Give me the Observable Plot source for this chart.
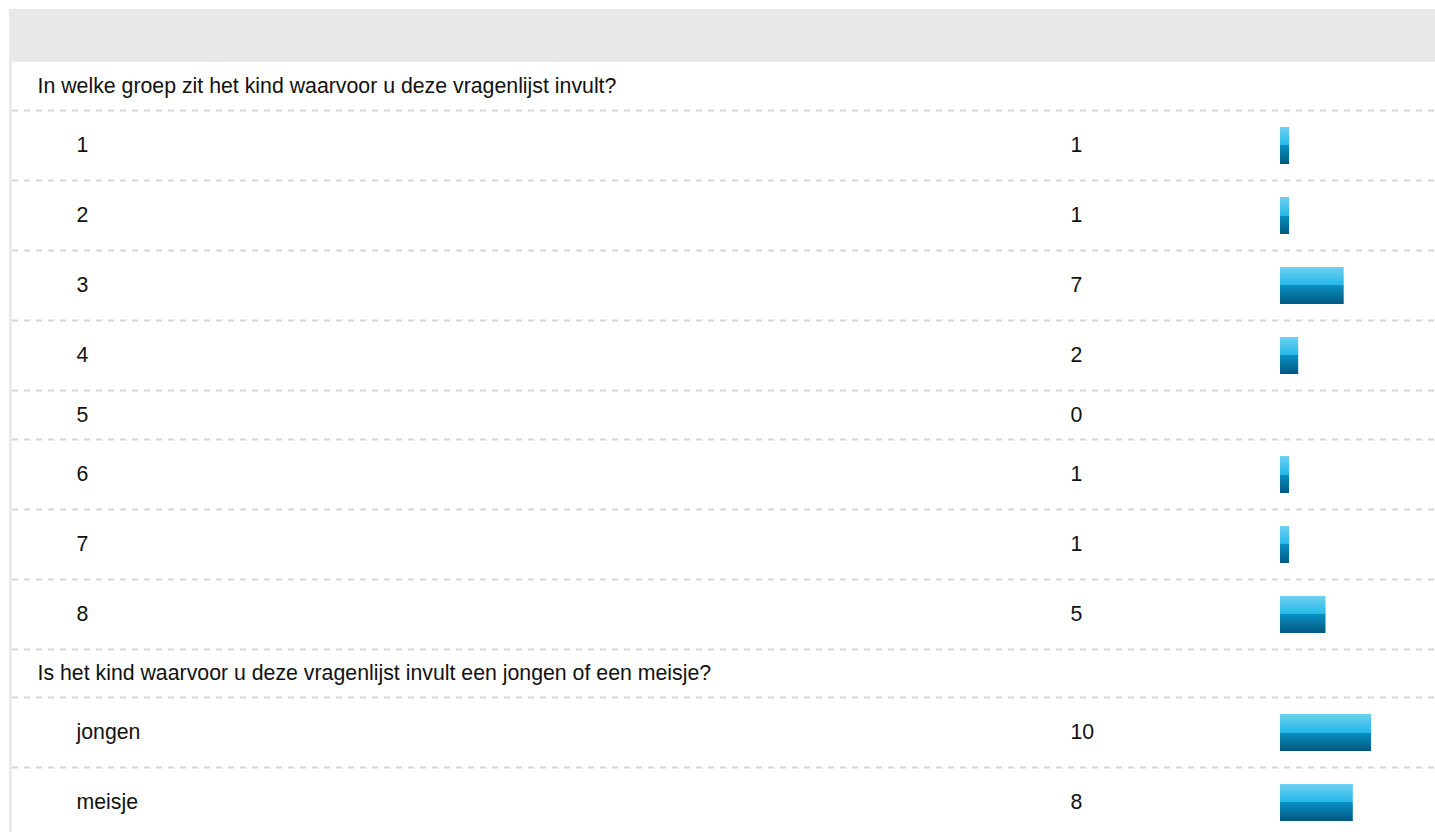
<!DOCTYPE html>
<html>
<head>
<meta charset="utf-8">
<script src="https://cdn.jsdelivr.net/npm/d3@7"></script>
<script src="https://cdn.jsdelivr.net/npm/@observablehq/plot@0.6"></script>
<style>
  html, body { margin: 0; padding: 0; background: #fff; overflow: hidden; }
  #page { position: relative; width: 1435px; height: 832px; }
  #header { position: absolute; left: 9px; top: 9px; right: 0; height: 53px; background: #e8e8e8; }
  #leftbar { position: absolute; left: 9px; top: 62px; width: 3px; bottom: 0; background: #ebebeb; }
  #chart { position: absolute; left: 12px; top: 62px; }
  #chart svg { display: block; }
</style>
</head>
<body>
<div id="page">
  <div id="header"></div>
  <div id="leftbar"></div>
  <div id="chart"></div>
</div>
<script>
// ---- data ----
const questions = [
  "In welke groep zit het kind waarvoor u deze vragenlijst invult?",
  "Is het kind waarvoor u deze vragenlijst invult een jongen of een meisje?"
];
const groepLabels = ["1", "2", "3", "4", "5", "6", "7", "8"];
const groepCounts = [1, 1, 7, 2, 0, 1, 1, 5];
const geslachtLabels = ["jongen", "meisje"];
const geslachtCounts = [10, 8];

// ---- layout of rows (stacked table) ----
const Q_H = 48, BAR_ROW_H = 70, EMPTY_ROW_H = 49, BAR_PAD = 17, BAR_H = 37;
const sections = [
  {question: questions[0], labels: groepLabels, counts: groepCounts},
  {question: questions[1], labels: geslachtLabels, counts: geslachtCounts}
];
const rows = [];
let yPos = 0;
for (const s of sections) {
  rows.push({type: "q", text: s.question, y0: yPos, y1: yPos + Q_H});
  yPos += Q_H;
  s.labels.forEach((lab, i) => {
    const v = s.counts[i];
    const h = v > 0 ? BAR_ROW_H : EMPTY_ROW_H;
    rows.push({type: "a", text: lab, value: v, y0: yPos, y1: yPos + h});
    yPos += h;
  });
}
rows.forEach(r => r.yc = (r.y0 + r.y1) / 2);
const answers = rows.filter(r => r.type === "a");
const qs = rows.filter(r => r.type === "q");
const bars = answers.filter(r => r.value > 0).map(r => ({...r, b0: r.y0 + BAR_PAD, b1: r.y0 + BAR_PAD + BAR_H}));

const W = 1423, H = 770;
const font = "'Liberation Sans', Arial, Helvetica, sans-serif";
const FS = 21.3;

const plot = Plot.plot({
  width: W,
  height: H,
  margin: 0,
  style: {fontFamily: font, fontSize: FS + "px", color: "#111", background: "transparent", overflow: "visible"},
  x: {type: "linear", domain: [0, 10], range: [1268, 1359], axis: null},
  y: {type: "linear", domain: [0, H], range: [0, H], axis: null},
  marks: [
    Plot.ruleY(rows.map(r => r.y1), {stroke: "#d6d6d6", strokeWidth: 2, strokeDasharray: "6,6"}),
    Plot.rect(bars, {x1: 0, x2: "value", y1: "b0", y2: "b1", fill: "url(#barGrad)"}),
    Plot.text(qs, {y: "yc", text: "text", frameAnchor: "left", textAnchor: "start", dx: 25, fontSize: FS, fill: "#111"}),
    Plot.text(answers, {y: "yc", text: "text", frameAnchor: "left", textAnchor: "start", dx: 64, fontSize: FS, fill: "#111"}),
    Plot.text(answers, {y: "yc", text: d => String(d.value), frameAnchor: "left", textAnchor: "start", dx: 1058, fontSize: FS, fill: "#111"})
  ]
});

// gradient definition for bars
const ns = "http://www.w3.org/2000/svg";
const defs = document.createElementNS(ns, "defs");
const grad = document.createElementNS(ns, "linearGradient");
grad.setAttribute("id", "barGrad");
grad.setAttribute("x1", "0"); grad.setAttribute("y1", "0");
grad.setAttribute("x2", "0"); grad.setAttribute("y2", "1");
[["0%", "#6fd0ef"], ["50%", "#22b8ea"], ["50%", "#0a90c2"], ["100%", "#00587f"]].forEach(([o, c]) => {
  const st = document.createElementNS(ns, "stop");
  st.setAttribute("offset", o);
  st.setAttribute("stop-color", c);
  grad.appendChild(st);
});
defs.appendChild(grad);
plot.insertBefore(defs, plot.firstChild);

document.getElementById("chart").appendChild(plot);
</script>
</body>
</html>
